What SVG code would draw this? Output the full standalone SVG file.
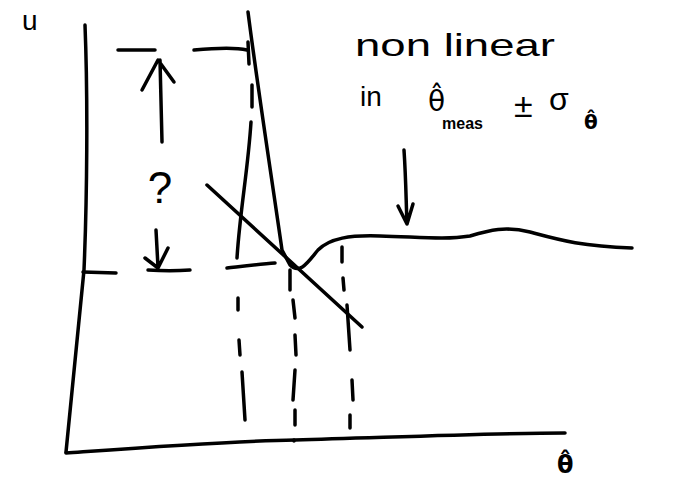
<svg xmlns="http://www.w3.org/2000/svg" width="683" height="478" viewBox="0 0 683 478">
<style>
.s{fill:none;stroke:#000;stroke-width:3.5;stroke-linecap:round;stroke-linejoin:round}
.t{font-family:"Liberation Sans","DejaVu Sans",sans-serif;fill:#000}
.g{font-family:"DejaVu Sans",sans-serif;fill:#000}
</style>
<rect width="683" height="478" fill="#fff"/>
<g id="axes">
<path class="s" d="M85,25 C88,100 87,200 84,270 L66,452"/>
<path class="s" d="M66,453 C150,447 230,441 295,440 C400,437 500,433 565,433"/>
<text class="t" x="22" y="30" font-size="28">u</text>
<text class="g" x="557" y="473" font-size="24" font-weight="bold">θ̂</text>
</g>
<g id="curve">
<path class="s" d="M248,12 C258,90 272,180 282,250 L290,265 C300,275 308,262 318,250 C330,238 350,235 380,236 C420,237 445,240 470,236 C490,230 505,226 530,232 C560,240 580,246 632,248"/>
</g>
<g id="tangent">
<path class="s" d="M207,185 L362,327"/>
</g>
<g id="connectors">
<path class="s" d="M118,50 L155,50 M194,50 C215,48 235,47 247,50"/>
<path class="s" d="M248,42 L249,64 M252,85 L252,107 M251,122 C248,170 240,210 237,258 M238,298 L238,310 M239,340 L240,355 M242,372 L245,420"/>
<path class="s" d="M83,272 L116,273 M148,270 C165,271 175,271 190,270 M227,268 C245,266 262,264 275,263"/>
<path class="s" d="M290,270 L290,290 M293,300 L295,318 M295,335 L296,355 M295,370 L293,400 M295,410 L295,425 M294,440 L294,441"/>
<path class="s" d="M342,247 L342,262 M343,278 L344,290 M347,305 L350,350 M352,380 L353,400 M350,415 L350,428"/>
<path class="s" d="M162,142 L160,60 M142,90 L158,60 L174,82"/>
<path class="s" d="M156,230 L158,267 M145,258 L158,268 L168,248"/>
<path class="s" d="M404,150 C406,180 406,200 407,224 M398,206 L407,224 L413,204"/>
</g>
<g id="labels">
<text class="t" x="160" y="203" font-size="44" text-anchor="middle">?</text>
<text class="t" x="355" y="56" font-size="32" textLength="200" lengthAdjust="spacingAndGlyphs">non linear</text>
<text class="t" x="360" y="106" font-size="28">in</text>
<text class="g" x="428" y="111" font-size="28">θ̂</text>
<text class="t" x="442" y="129" font-size="16" font-weight="bold">meas</text>
<text class="t" x="514" y="117" font-size="34">±</text>
<text class="t" x="549" y="110" font-size="32">σ</text>
<text class="g" x="584" y="129" font-size="20" font-weight="bold">θ̂</text>
</g>
</svg>
